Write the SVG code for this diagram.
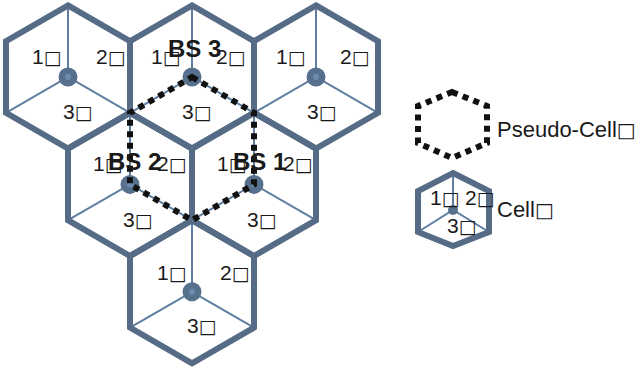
<svg xmlns="http://www.w3.org/2000/svg" width="641" height="368" viewBox="0 0 641 368">
<style>
.hex{fill:none;stroke:#566c86;stroke-width:6;stroke-linejoin:miter}
.spoke{stroke:#5e7ea2;stroke-width:2;fill:none}
.dot{fill:#56708d}
.dotin{fill:#6b8cb0}
.lbl{font-family:"Liberation Sans",Arial,sans-serif;font-size:21px;fill:#1a1a1a}
.bx{font-family:"DejaVu Sans",sans-serif;font-size:19px}
.bs{font-family:"Liberation Sans",Arial,sans-serif;font-size:24px;font-weight:bold;fill:#1a1a1a}
.leg{font-family:"Liberation Sans",Arial,sans-serif;font-size:22px;fill:#1a1a1a}
.pseudo{fill:none;stroke:#111;stroke-width:6;stroke-dasharray:6 5.5}
</style>
<rect width="641" height="368" fill="#fff"/>

<g id="cell-1">
<path class="spoke" d="M68,5.4 L68,77 M6,112.8 L68,77 L130,112.8"/>
<polygon class="hex" points="68,5.4 130,41.2 130,112.8 68,148.6 6,112.8 6,41.2"/>
<circle class="dot" cx="68" cy="77" r="9.5"/><circle class="dotin" cx="68" cy="77" r="3"/>
<text class="lbl" x="32" y="64">1<tspan class="bx">□</tspan></text><text class="lbl" x="96" y="64">2<tspan class="bx">□</tspan></text><text class="lbl" x="63" y="119">3<tspan class="bx">□</tspan></text>
</g>

<g id="cell-bs3">
<path class="spoke" d="M192,5.4 L192,77 M130,112.8 L192,77 L254,112.8"/>
<polygon class="hex" points="192,5.4 254,41.2 254,112.8 192,148.6 130,112.8 130,41.2"/>
<circle class="dot" cx="192" cy="77" r="9.5"/><circle class="dotin" cx="192" cy="77" r="3"/>
<text class="lbl" x="151" y="64">1<tspan class="bx">□</tspan></text><text class="lbl" x="216" y="64">2<tspan class="bx">□</tspan></text><text class="lbl" x="182" y="119">3<tspan class="bx">□</tspan></text>
</g>

<g id="cell-3">
<path class="spoke" d="M316,5.4 L316,77 M254,112.8 L316,77 L378,112.8"/>
<polygon class="hex" points="316,5.4 378,41.2 378,112.8 316,148.6 254,112.8 254,41.2"/>
<circle class="dot" cx="316" cy="77" r="9.5"/><circle class="dotin" cx="316" cy="77" r="3"/>
<text class="lbl" x="276" y="64">1<tspan class="bx">□</tspan></text><text class="lbl" x="340" y="64">2<tspan class="bx">□</tspan></text><text class="lbl" x="307" y="119">3<tspan class="bx">□</tspan></text>
</g>

<g id="cell-bs2">
<path class="spoke" d="M130,112.8 L130,184.4 M68,220.2 L130,184.4 L192,220.2"/>
<polygon class="hex" points="130,112.8 192,148.6 192,220.2 130,256 68,220.2 68,148.6"/>
<circle class="dot" cx="130" cy="184.4" r="9.5"/><circle class="dotin" cx="130" cy="184.4" r="3"/>
<text class="lbl" x="93" y="171">1<tspan class="bx">□</tspan></text><text class="lbl" x="157" y="171">2<tspan class="bx">□</tspan></text><text class="lbl" x="123" y="227">3<tspan class="bx">□</tspan></text>
</g>

<g id="cell-bs1">
<path class="spoke" d="M254,112.8 L254,184.4 M192,220.2 L254,184.4 L316,220.2"/>
<polygon class="hex" points="254,112.8 316,148.6 316,220.2 254,256 192,220.2 192,148.6"/>
<circle class="dot" cx="254" cy="184.4" r="9.5"/><circle class="dotin" cx="254" cy="184.4" r="3"/>
<text class="lbl" x="217" y="171">1<tspan class="bx">□</tspan></text><text class="lbl" x="283" y="171">2<tspan class="bx">□</tspan></text><text class="lbl" x="247" y="227">3<tspan class="bx">□</tspan></text>
</g>

<g id="cell-6">
<path class="spoke" d="M192,220.2 L192,291.8 M130,327.6 L192,291.8 L254,327.6"/>
<polygon class="hex" points="192,220.2 254,256 254,327.6 192,363.4 130,327.6 130,256"/>
<circle class="dot" cx="192" cy="291.8" r="9.5"/><circle class="dotin" cx="192" cy="291.8" r="3"/>
<text class="lbl" x="157" y="280">1<tspan class="bx">□</tspan></text><text class="lbl" x="220" y="280">2<tspan class="bx">□</tspan></text><text class="lbl" x="187" y="333">3<tspan class="bx">□</tspan></text>
</g>

<g id="connectors">
<polygon class="pseudo" points="192,77 254,112.8 254,184.4 192,220.2 130,184.4 130,112.8"/>
</g>

<g id="bs-labels">
<text class="bs" x="168" y="57">BS 3</text>
<text class="bs" x="108" y="170">BS 2</text>
<text class="bs" x="233" y="170">BS 1</text>
</g>

<g id="legend-pseudo-cell">
<polygon class="pseudo" points="452,92 487,106 487,143 452,158 418,143 418,106"/>
<text class="leg" x="497" y="137">Pseudo-Cell<tspan class="bx" style="font-size:20px">□</tspan></text>
</g>

<g id="legend-cell">
<path class="spoke" d="M453,173 L453,210 M418,232 L453,210 L489,232"/>
<polygon class="hex" points="453,173 489,191 489,232 453,246 418,232 418,191"/>
<circle class="dot" cx="453" cy="210" r="5"/>
<text class="lbl" x="430" y="205">1<tspan class="bx">□</tspan></text><text class="lbl" x="465" y="205">2<tspan class="bx">□</tspan></text><text class="lbl" x="447" y="233">3<tspan class="bx">□</tspan></text>
<text class="leg" x="497" y="217">Cell<tspan class="bx" style="font-size:20px">□</tspan></text>
</g>
</svg>
